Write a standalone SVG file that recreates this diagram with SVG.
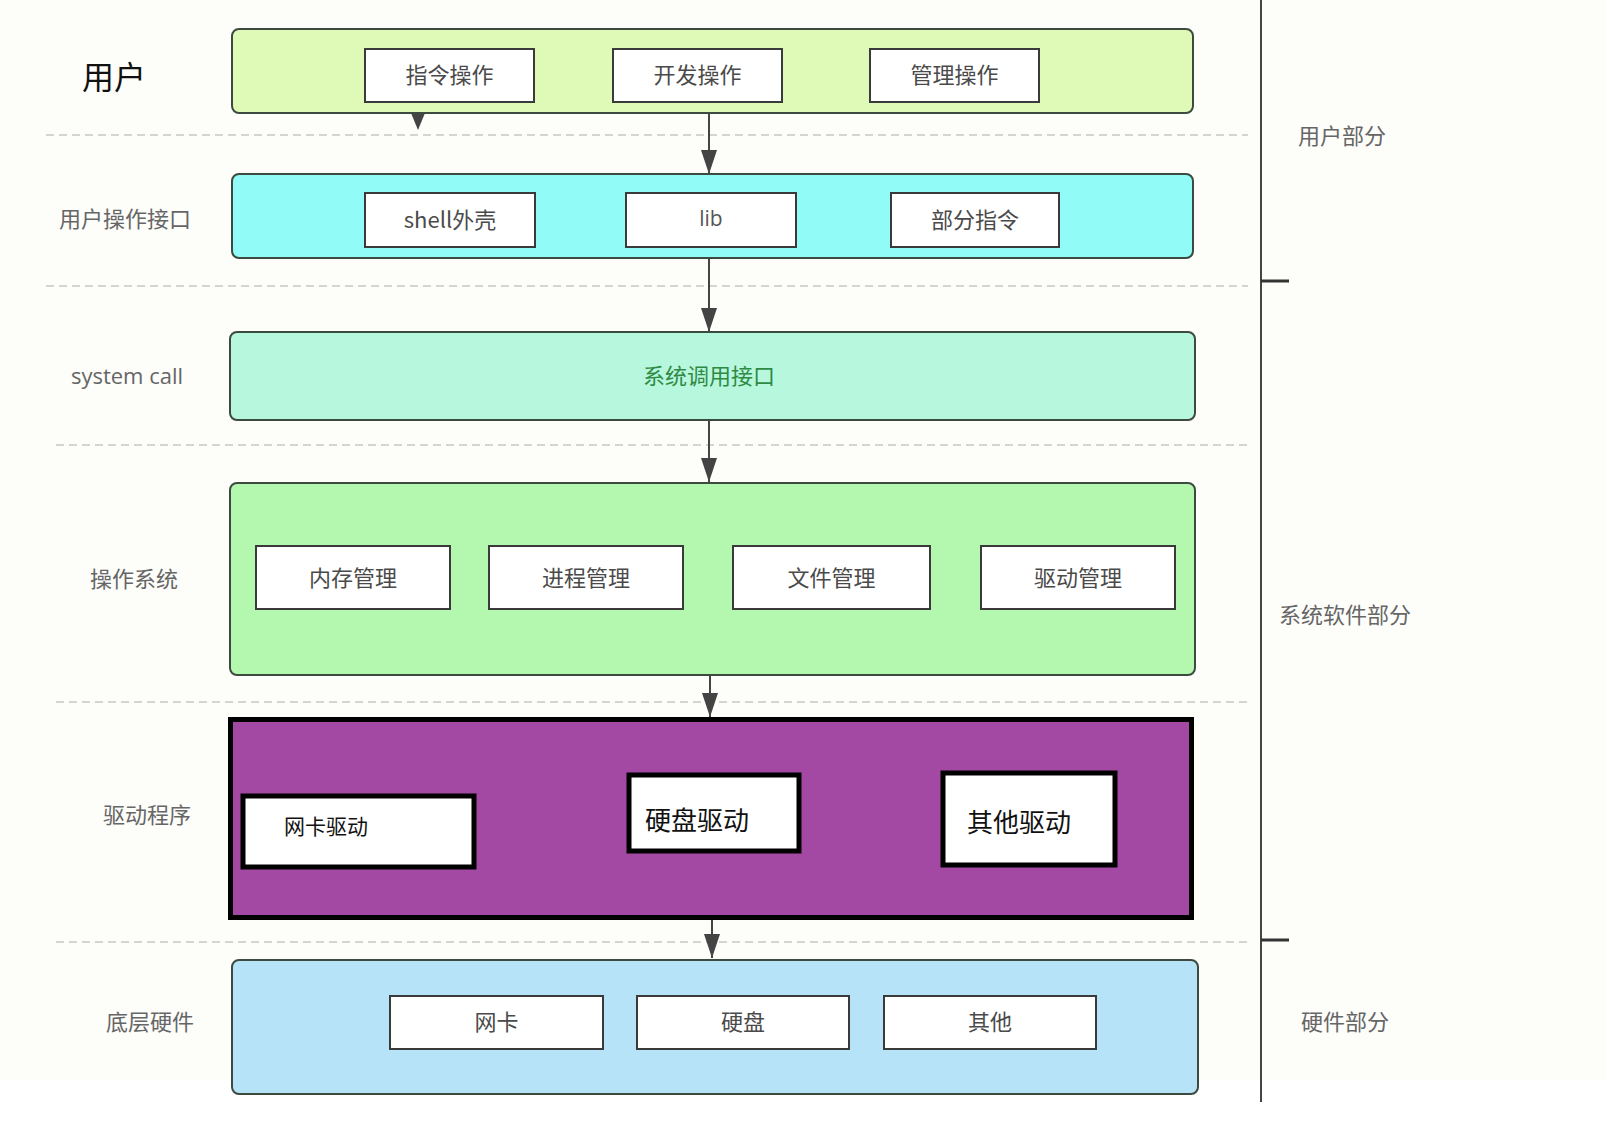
<svg xmlns="http://www.w3.org/2000/svg" width="1607" height="1133" viewBox="0 0 1607 1133">
<style>
.cn{font-family:"Noto Sans CJK SC","Noto Sans",sans-serif;}
.lbl{font-family:"Noto Sans CJK SC","Noto Sans",sans-serif;font-size:22px;fill:#666;text-anchor:middle;dominant-baseline:central;}
.row{stroke:#3d4a40;stroke-width:2;}
.sub{fill:#fff;stroke:#3a3a3a;stroke-width:2;}
.st{font-family:"Noto Sans CJK SC","Noto Sans",sans-serif;font-size:22px;fill:#4a4a4a;text-anchor:middle;dominant-baseline:central;}
.drv{fill:#fff;stroke:#000;stroke-width:5;}
.dt{font-family:"Noto Sans CJK SC","Noto Sans",sans-serif;fill:#111;dominant-baseline:central;}
.dash{stroke:#d4d4d4;stroke-width:2;stroke-dasharray:8 5;fill:none;}
.conn{stroke:#444;stroke-width:2;fill:none;marker-end:url(#ah);}
</style>
<defs>
<marker id="ah" markerUnits="userSpaceOnUse" markerWidth="24" markerHeight="16" refX="24" refY="8" orient="auto">
<path d="M0,0 L24,8 L0,16 z" fill="#444"/>
</marker>
</defs>
<rect width="1607" height="1133" fill="#fdfdfa"/>
<rect x="0" y="1080" width="1607" height="53" fill="#ffffff"/>

<g id="separators">
<line class="dash" x1="46" y1="135" x2="1248" y2="135"/>
<line class="dash" x1="46" y1="286" x2="1248" y2="286"/>
<line class="dash" x1="56" y1="445" x2="1250" y2="445"/>
<line class="dash" x1="56" y1="702" x2="1250" y2="702"/>
<line class="dash" x1="56" y1="942" x2="1250" y2="942"/>
<line x1="1261" y1="0" x2="1261" y2="1102" stroke="#444" stroke-width="2"/>
<line x1="1261" y1="281" x2="1289" y2="281" stroke="#333" stroke-width="3"/>
<line x1="1261" y1="940" x2="1289" y2="940" stroke="#333" stroke-width="3"/>
</g>

<g id="layer-labels">
<text class="cn" x="114" y="75" font-size="32" fill="#111" text-anchor="middle" dominant-baseline="central">用户</text>
<text class="lbl" x="125" y="217">用户操作接口</text>
<text x="127" y="375" font-family="Open Sans, sans-serif" font-size="22" fill="#666" text-anchor="middle" dominant-baseline="central">system call</text>
<text class="lbl" x="134" y="577">操作系统</text>
<text class="lbl" x="147" y="813">驱动程序</text>
<text class="lbl" x="150" y="1020">底层硬件</text>
<text class="lbl" x="1342" y="134">用户部分</text>
<text class="lbl" x="1345" y="613">系统软件部分</text>
<text class="lbl" x="1345" y="1020">硬件部分</text>
</g>

<g id="connectors">
<polygon points="411,113 425,113 418,130" fill="#444"/>
<line class="conn" x1="709" y1="113" x2="709" y2="174"/>
<line class="conn" x1="709" y1="258" x2="709" y2="332"/>
<line class="conn" x1="709" y1="420" x2="709" y2="482"/>
<line class="conn" x1="710" y1="675" x2="710" y2="717"/>
<line class="conn" x1="712" y1="920" x2="712" y2="958"/>
</g>

<g id="user">
<rect class="row" x="232" y="29" width="961" height="84" rx="7" fill="#dff9b6"/>
<g id="cmd-op"><rect class="sub" x="365" y="49" width="169" height="53"/><text class="st" x="449.5" y="73">指令操作</text></g>
<g id="dev-op"><rect class="sub" x="613" y="49" width="169" height="53"/><text class="st" x="697.5" y="73">开发操作</text></g>
<g id="mgmt-op"><rect class="sub" x="870" y="49" width="169" height="53"/><text class="st" x="954.5" y="73">管理操作</text></g>
</g>

<g id="user-interface">
<rect class="row" x="232" y="174" width="961" height="84" rx="7" fill="#90fbf7"/>
<g id="shell"><rect class="sub" x="365" y="193" width="170" height="54"/><text class="st" x="450" y="217.5">shell外壳</text></g>
<g id="lib"><rect class="sub" x="626" y="193" width="170" height="54"/><text x="711" y="218" font-family="Open Sans, sans-serif" font-size="21" fill="#555" text-anchor="middle" dominant-baseline="central">lib</text></g>
<g id="partial-cmd"><rect class="sub" x="891" y="193" width="168" height="54"/><text class="st" x="975" y="217.5">部分指令</text></g>
</g>

<g id="syscall">
<rect class="row" x="230" y="332" width="965" height="88" rx="7" fill="#b6f7dd"/>
<text class="cn" x="709" y="374" font-size="22" fill="#2f8a44" text-anchor="middle" dominant-baseline="central">系统调用接口</text>
</g>

<g id="os">
<rect class="row" x="230" y="483" width="965" height="192" rx="7" fill="#b3f8ae"/>
<g id="mem"><rect class="sub" x="256" y="546" width="194" height="63"/><text class="st" x="353" y="575.5">内存管理</text></g>
<g id="proc"><rect class="sub" x="489" y="546" width="194" height="63"/><text class="st" x="586" y="575.5">进程管理</text></g>
<g id="file"><rect class="sub" x="733" y="546" width="197" height="63"/><text class="st" x="831.5" y="575.5">文件管理</text></g>
<g id="drvmgmt"><rect class="sub" x="981" y="546" width="194" height="63"/><text class="st" x="1078" y="575.5">驱动管理</text></g>
</g>

<g id="drivers">
<rect x="230.5" y="719.5" width="961" height="198" fill="#a349a4" stroke="#000" stroke-width="5"/>
<g id="nic-drv"><rect class="drv" x="243" y="796" width="231" height="71"/><text class="dt" x="284" y="825" font-size="21">网卡驱动</text></g>
<g id="disk-drv"><rect class="drv" x="629" y="775" width="170" height="76"/><text class="dt" x="645" y="818" font-size="26">硬盘驱动</text></g>
<g id="other-drv"><rect class="drv" x="943" y="773" width="172" height="92"/><text class="dt" x="967" y="820" font-size="26">其他驱动</text></g>
</g>

<g id="hardware">
<rect class="row" x="232" y="960" width="966" height="134" rx="7" fill="#b6e3f8"/>
<g id="nic"><rect class="sub" x="390" y="996" width="213" height="53"/><text class="st" x="496.5" y="1020">网卡</text></g>
<g id="disk"><rect class="sub" x="637" y="996" width="212" height="53"/><text class="st" x="743" y="1020">硬盘</text></g>
<g id="other"><rect class="sub" x="884" y="996" width="212" height="53"/><text class="st" x="990" y="1020">其他</text></g>
</g>
</svg>
